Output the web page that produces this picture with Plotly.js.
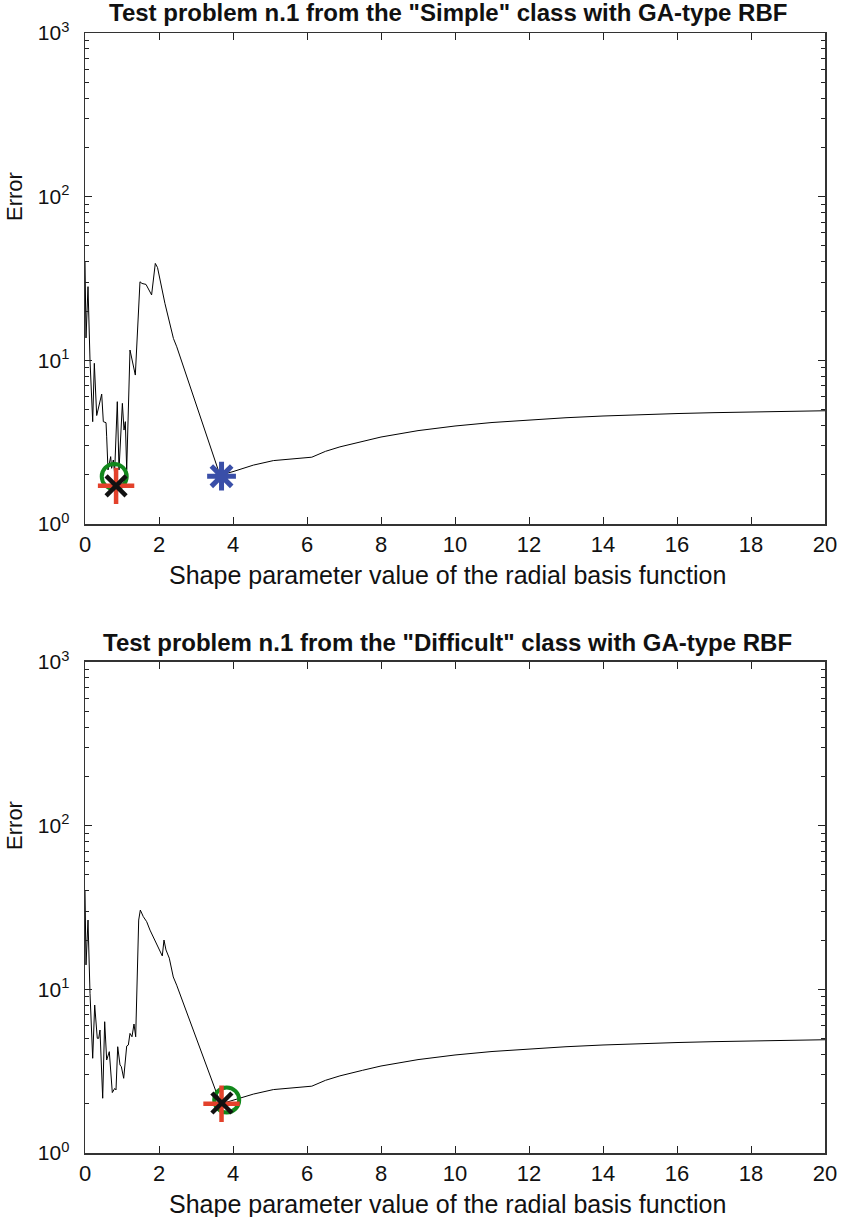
<!DOCTYPE html>
<html>
<head>
<meta charset="utf-8">
<script src="https://cdn.plot.ly/plotly-3.0.1.min.js"></script>
<style>
html, body { margin: 0; padding: 0; background: #fff; }
#chart { width: 845px; height: 1217px; }
</style>
</head>
<body>
<div id="chart"></div>
<script>
// ---- Data: top panel ("Simple" class) ----
var xSimple = [0.0, 0.027, 0.081, 0.135, 0.208, 0.252, 0.316, 0.387, 0.451, 0.495, 0.568, 0.586, 0.622, 0.694, 0.72, 0.765, 0.80, 0.873, 0.919, 1.01, 1.054, 1.09, 1.127, 1.216, 1.36, 1.486, 1.54, 1.649, 1.80, 1.90, 1.96, 2.16, 2.39, 2.48, 3.60, 3.69, 4.0, 4.55, 5.09, 6.13, 6.5, 6.89, 7.5, 8, 9, 10, 11, 12, 13, 14, 15, 16, 17, 18, 19, 20];
var ySimple = [40, 13.7, 28.2, 10.0, 4.22, 9.59, 4.6, 5.46, 6.22, 4.22, 4.16, 3.41, 2.14, 2.58, 2.19, 2.46, 2.05, 5.59, 2.14, 5.46, 3.75, 4.22, 2.14, 11.56, 8.13, 30.2, 29.5, 29.1, 25.1, 39.1, 36.9, 22.3, 13.6, 12.1, 2.14, 2.0, 2.09, 2.29, 2.44, 2.56, 2.78, 2.96, 3.2, 3.4, 3.72, 3.97, 4.17, 4.33, 4.46, 4.57, 4.66, 4.73, 4.79, 4.84, 4.88, 4.92];

// ---- Data: bottom panel ("Difficult" class) ----
var xDifficult = [0.0, 0.027, 0.081, 0.135, 0.208, 0.262, 0.332, 0.37, 0.405, 0.478, 0.532, 0.586, 0.657, 0.738, 0.803, 0.838, 0.884, 0.946, 0.982, 1.046, 1.127, 1.171, 1.216, 1.27, 1.324, 1.37, 1.451, 1.495, 1.576, 1.667, 1.757, 1.846, 1.938, 2.089, 2.135, 2.189, 2.278, 2.386, 2.478, 3.56, 3.69, 4.19, 4.55, 5.09, 6.13, 6.5, 6.89, 7.5, 8, 9, 10, 11, 12, 13, 14, 15, 16, 17, 18, 19, 20];
var yDifficult = [40, 14.1, 26.5, 9.45, 3.79, 8.02, 5.02, 5.02, 5.64, 2.16, 6.34, 3.70, 4.16, 2.34, 2.48, 2.43, 4.46, 3.45, 3.37, 2.86, 4.5, 4.57, 5.38, 5.13, 6.14, 5.13, 26.5, 30.5, 27.8, 25.9, 23.0, 20.96, 18.7, 16.0, 20.0, 17.4, 15.5, 11.9, 10.6, 2.31, 2.0, 2.16, 2.29, 2.44, 2.56, 2.78, 2.96, 3.2, 3.4, 3.72, 3.97, 4.17, 4.33, 4.46, 4.57, 4.66, 4.73, 4.79, 4.84, 4.88, 4.92];

// ---- Highlighted optima (marker positions) ----
var simpleCircle = {x: [0.79], y: [1.95]};
var simplePlus = {x: [0.84], y: [1.71]};
var simpleCross = {x: [0.84], y: [1.71]};
var simpleStar = {x: [3.69], y: [1.96]};
var diffCircle = {x: [3.83], y: [2.11]};
var diffPlus = {x: [3.69], y: [2.0]};
var diffCross = {x: [3.70], y: [2.02]};

// ---- Texts ----
var titleSimple = 'Test problem n.1 from the "Simple" class with GA-type RBF';
var titleDifficult = 'Test problem n.1 from the "Difficult" class with GA-type RBF';
var xLabel = 'Shape parameter value of the radial basis function';
var yLabel = 'Error';
var yTickVals = [1, 10, 100, 1000];
var yTickText = ['10<sup>0</sup>', '10<sup>1</sup>', '10<sup>2</sup>', '10<sup>3</sup>'];
var yMinorVals = [2,3,4,5,6,7,8,9,20,30,40,50,60,70,80,90,200,300,400,500,600,700,800,900];
var xTickVals = [0, 2, 4, 6, 8, 10, 12, 14, 16, 18, 20];

var FONT = 'Liberation Sans, Arial, Helvetica, sans-serif';
var GREEN = '#12881c', RED = '#e3412b', BLACK = '#111111', BLUE = '#3a4fa8';

function lineTrace(x, y, xa, ya) {
  return {x: x, y: y, xaxis: xa, yaxis: ya, type: 'scatter', mode: 'lines',
          line: {color: '#000', width: 1}, hoverinfo: 'skip', showlegend: false};
}
function markTrace(pt, xa, ya, symbol, color, size, lw) {
  return {x: pt.x, y: pt.y, xaxis: xa, yaxis: ya, type: 'scatter', mode: 'markers',
          marker: {symbol: symbol, size: size, color: color, line: {color: color, width: lw}},
          hoverinfo: 'skip', showlegend: false};
}

var data = [
  lineTrace(xSimple, ySimple, 'x', 'y'),
  markTrace(simpleCircle, 'x', 'y', 'circle-open', GREEN, 25, 4),
  markTrace(simplePlus, 'x', 'y', 'cross-thin-open', RED, 26, 4.5),
  markTrace(simpleCross, 'x', 'y', 'x-thin-open', BLACK, 20, 4.5),
  markTrace(simpleStar, 'x', 'y', 'asterisk-open', BLUE, 24, 5),
  lineTrace(xDifficult, yDifficult, 'x2', 'y2'),
  markTrace(diffCircle, 'x2', 'y2', 'circle-open', GREEN, 25, 4),
  markTrace(diffPlus, 'x2', 'y2', 'cross-thin-open', RED, 26, 4.5),
  markTrace(diffCross, 'x2', 'y2', 'x-thin-open', BLACK, 20, 4.5)
];

function xAxis(anchor) {
  return {anchor: anchor, domain: [0, 1], range: [0, 20], tickvals: xTickVals,
          ticks: 'inside', ticklen: 7, tickwidth: 1, tickcolor: '#222',
          showline: true, linecolor: '#333', linewidth: 1.5, mirror: 'ticks',
          showgrid: false, zeroline: false,
          tickfont: {family: FONT, size: 22, color: '#111'}};
}
function yAxis(anchor, dom) {
  return {anchor: anchor, domain: dom, type: 'log', range: [0, 3],
          tickvals: yTickVals, ticktext: yTickText,
          ticks: 'inside', ticklen: 7, tickwidth: 1, tickcolor: '#222',
          minor: {tickvals: yMinorVals, ticks: 'inside', ticklen: 4, tickcolor: '#222', showgrid: false},
          showline: true, linecolor: '#333', linewidth: 1.5, mirror: 'ticks',
          showgrid: false, zeroline: false, ticklabelstandoff: 10,
          tickfont: {family: FONT, size: 21, color: '#111'}};
}

var annFont = {family: FONT, size: 25, color: '#111'};
var titleFont = {family: FONT, size: 24, color: '#111'};
var layout = {
  width: 845, height: 1217,
  margin: {l: 85, r: 20, t: 33, b: 64},
  paper_bgcolor: '#fff', plot_bgcolor: '#fff',
  showlegend: false,
  xaxis: xAxis('y'),
  yaxis: yAxis('x', [0.5616, 1]),
  xaxis2: xAxis('y2'),
  yaxis2: yAxis('x2', [0, 0.4384]),
  annotations: [
    {text: '<b>' + titleSimple + '</b>', xref: 'paper', yref: 'paper', x: 0.49, y: 1.0179,
     xanchor: 'center', yanchor: 'middle', showarrow: false, font: titleFont},
    {text: '<b>' + titleDifficult + '</b>', xref: 'paper', yref: 'paper', x: 0.49, y: 0.4554,
     xanchor: 'center', yanchor: 'middle', showarrow: false, font: titleFont},
    {text: xLabel, xref: 'paper', yref: 'paper', x: 0.49, y: 0.5161,
     xanchor: 'center', yanchor: 'middle', showarrow: false, font: annFont},
    {text: xLabel, xref: 'paper', yref: 'paper', x: 0.49, y: -0.0455,
     xanchor: 'center', yanchor: 'middle', showarrow: false, font: annFont},
    {text: yLabel, xref: 'paper', yref: 'paper', x: -0.0946, y: 0.8545, textangle: -90,
     xanchor: 'center', yanchor: 'middle', showarrow: false, font: {family: FONT, size: 22, color: '#111'}},
    {text: yLabel, xref: 'paper', yref: 'paper', x: -0.0946, y: 0.2929, textangle: -90,
     xanchor: 'center', yanchor: 'middle', showarrow: false, font: {family: FONT, size: 22, color: '#111'}}
  ]
};

Plotly.newPlot('chart', data, layout, {staticPlot: true, displayModeBar: false});
</script>
</body>
</html>
